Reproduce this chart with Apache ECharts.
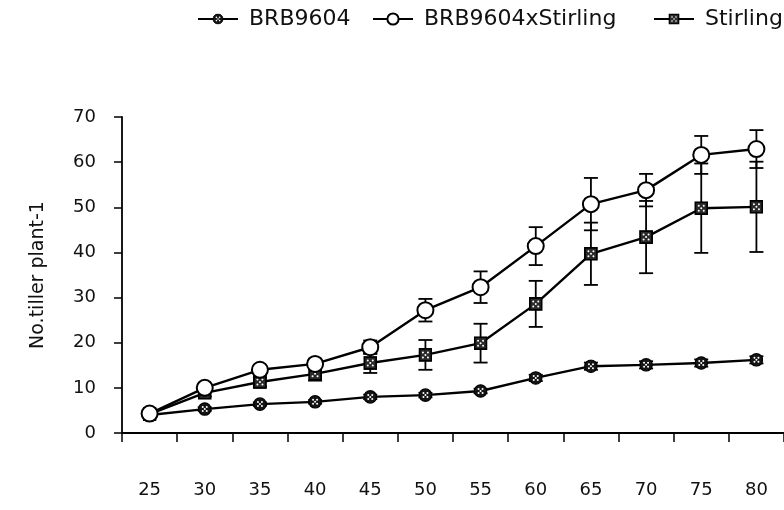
<!DOCTYPE html>
<html>
<head>
<meta charset="utf-8">
<script src="https://cdn.jsdelivr.net/npm/echarts@6/dist/echarts.min.js"></script>
<style>
  html, body { margin: 0; padding: 0; background: #fff; }
  #chart { width: 784px; height: 510px; }
</style>
</head>
<body>
<div id="chart"></div>
<script>
// days / tiller counts
const days = ['25', '30', '35', '40', '45', '50', '55', '60', '65', '70', '75', '80'];
const brb = [4.0, 5.3, 6.4, 6.9, 8.0, 8.4, 9.3, 12.2, 14.8, 15.1, 15.5, 16.2];
const brbErr = [0.3, 0.4, 0.4, 0.4, 0.5, 0.5, 0.5, 0.7, 0.8, 0.8, 0.8, 0.8];
const cross = [4.3, 10.0, 14.0, 15.3, 19.0, 27.2, 32.3, 41.4, 50.7, 53.8, 61.6, 62.9];
const crossErr = [0.5, 0.8, 0.8, 1.0, 1.5, 2.5, 3.5, 4.2, 5.8, 3.6, 4.2, 4.2];
const stirling = [4.2, 8.9, 11.3, 13.1, 15.5, 17.3, 19.9, 28.6, 39.7, 43.4, 49.8, 50.1];
const stirlingErr = [0.5, 0.8, 1.0, 1.5, 2.2, 3.3, 4.3, 5.1, 6.9, 8.0, 9.9, 10.0];
const yTicks = [0, 10, 20, 30, 40, 50, 60, 70];
const seriesNames = ['BRB9604', 'BRB9604xStirling', 'Stirling'];

const FONT = 'DejaVu Sans';

function svgSymbol(svg) {
  return 'image://data:image/svg+xml;utf8,' + encodeURIComponent(svg);
}
// dotted dark circle (BRB9604)
const dotCircle = svgSymbol(
  "<svg xmlns='http://www.w3.org/2000/svg' width='14' height='14'>" +
  "<circle cx='7' cy='7' r='6.2' fill='#151515' stroke='#000' stroke-width='1.2'/>" +
  "<circle cx='5' cy='5' r='1' fill='#fff'/><circle cx='9' cy='5' r='1' fill='#fff'/>" +
  "<circle cx='7' cy='7' r='1' fill='#fff'/>" +
  "<circle cx='5' cy='9' r='1' fill='#fff'/><circle cx='9' cy='9' r='1' fill='#fff'/>" +
  "</svg>");
// dotted square (Stirling)
const dotSquare = svgSymbol(
  "<svg xmlns='http://www.w3.org/2000/svg' width='14' height='14'>" +
  "<rect x='1' y='1' width='12' height='12' fill='#2a2a2a' stroke='#000' stroke-width='1.8'/>" +
  "<circle cx='4.5' cy='4.5' r='1' fill='#fff'/><circle cx='9.5' cy='4.5' r='1' fill='#fff'/>" +
  "<circle cx='7' cy='7' r='1' fill='#fff'/>" +
  "<circle cx='4.5' cy='9.5' r='1' fill='#fff'/><circle cx='9.5' cy='9.5' r='1' fill='#fff'/>" +
  "</svg>");

function errData(vals, errs) {
  return vals.map((v, i) => [i, v - errs[i], v + errs[i]]);
}

function errorSeries(vals, errs) {
  return {
    type: 'custom',
    z: 1,
    silent: true,
    data: errData(vals, errs),
    renderItem: (params, api) => {
      const x = api.value(0);
      const lo = api.coord([x, api.value(1)]);
      const hi = api.coord([x, api.value(2)]);
      const half = 7;
      const style = { stroke: '#000', lineWidth: 1.8 };
      return {
        type: 'group',
        children: [
          { type: 'line', shape: { x1: lo[0], y1: lo[1], x2: hi[0], y2: hi[1] }, style },
          { type: 'line', shape: { x1: lo[0] - half, y1: lo[1], x2: lo[0] + half, y2: lo[1] }, style },
          { type: 'line', shape: { x1: hi[0] - half, y1: hi[1], x2: hi[0] + half, y2: hi[1] }, style }
        ]
      };
    }
  };
}

function legendItem(name, left) {
  return {
    top: 3,
    left: left,
    itemWidth: 40,
    itemHeight: 14,
    textStyle: { fontFamily: FONT, fontSize: 22, color: '#111', padding: [0, 0, 0, 6] },
    data: [name]
  };
}

const chart = echarts.init(document.getElementById('chart'));

const option = {
  animation: false,
  backgroundColor: '#fff',
  textStyle: { fontFamily: FONT, color: '#111' },
  legend: [
    legendItem(seriesNames[0], 192),
    legendItem(seriesNames[1], 367),
    legendItem(seriesNames[2], 648)
  ],
  grid: { left: 122, right: -11, top: 117, bottom: 77 },
  xAxis: {
    type: 'category',
    data: days,
    boundaryGap: true,
    axisLine: { lineStyle: { color: '#000', width: 1.8 } },
    axisTick: { show: true, length: 9, inside: false, lineStyle: { color: '#000', width: 1.5 } },
    axisLabel: { margin: 48, fontSize: 18, fontFamily: FONT, color: '#111' }
  },
  yAxis: {
    type: 'value',
    min: yTicks[0],
    max: yTicks[yTicks.length - 1],
    interval: 10,
    name: 'No.tiller plant-1',
    nameLocation: 'middle',
    nameGap: 74,
    nameTextStyle: { fontSize: 19, fontFamily: FONT, color: '#111' },
    axisLine: { show: true, lineStyle: { color: '#000', width: 1.8 } },
    axisTick: { show: true, length: 8, lineStyle: { color: '#000', width: 1.5 } },
    axisLabel: { margin: 26, fontSize: 18, fontFamily: FONT, color: '#111' },
    splitLine: { show: false }
  },
  series: [
    errorSeries(brb, brbErr),
    errorSeries(cross, crossErr),
    errorSeries(stirling, stirlingErr),
    {
      name: seriesNames[0],
      type: 'line',
      z: 3,
      data: brb,
      symbol: dotCircle,
      symbolSize: 14,
      lineStyle: { color: '#000', width: 2.4 },
      itemStyle: { color: '#000' }
    },
    {
      name: seriesNames[1],
      type: 'line',
      z: 4,
      data: cross,
      symbol: 'circle',
      symbolSize: 16,
      lineStyle: { color: '#000', width: 2.4 },
      itemStyle: { color: '#fff', borderColor: '#000', borderWidth: 2 }
    },
    {
      name: seriesNames[2],
      type: 'line',
      z: 3,
      data: stirling,
      symbol: dotSquare,
      symbolSize: 14,
      lineStyle: { color: '#000', width: 2.4 },
      itemStyle: { color: '#000' }
    }
  ]
};

chart.setOption(option);
</script>
</body>
</html>
